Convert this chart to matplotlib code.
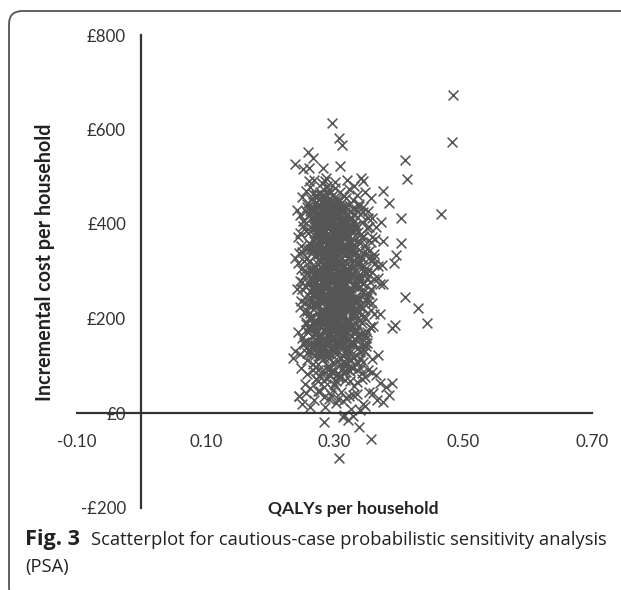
import matplotlib
matplotlib.use("Agg")
import matplotlib.pyplot as plt
from matplotlib.patches import FancyBboxPatch

# ---------------- data ----------------
# sparse / outlying draws
qaly_sparse = [0.296, 0.307, 0.312, 0.259, 0.239, 0.251, 0.260, 0.282, 0.309, 0.260,
               0.287, 0.320, 0.341, 0.344, 0.484, 0.482, 0.410, 0.412, 0.466, 0.375,
               0.384, 0.403, 0.375, 0.403, 0.395, 0.392, 0.409, 0.430, 0.444, 0.394,
               0.390, 0.385, 0.390, 0.356, 0.364, 0.372, 0.348, 0.235, 0.245, 0.266]
cost_sparse = [614, 583, 567, 553, 528, 516, 518, 518, 523, 490,
               497, 493, 497, 490, 673, 574, 535, 495, 421, 470,
               444, 412, 365, 360, 334, 317, 246, 222, 190, 186,
               179, 38, 63, 454, 394, 405, 468, 116, 35, 540]

qaly_450 = [0.262, 0.271, 0.284, 0.293, 0.301, 0.276, 0.268, 0.309, 0.315, 0.289,
            0.255, 0.298, 0.281, 0.322, 0.305, 0.273, 0.330, 0.292, 0.266, 0.318,
            0.286, 0.300, 0.278, 0.335, 0.249]
cost_450 = [478, 462, 471, 455, 488, 452, 494, 467, 459, 481,
            470, 462, 486, 475, 451, 458, 481, 473, 463, 456,
            492, 477, 468, 462, 458]

qaly_400 = [0.258, 0.264, 0.271, 0.279, 0.283, 0.288, 0.292, 0.296, 0.301, 0.305,
            0.311, 0.316, 0.322, 0.327, 0.333, 0.340, 0.246, 0.252, 0.268, 0.275,
            0.281, 0.286, 0.291, 0.297, 0.303, 0.308, 0.313, 0.319, 0.324, 0.331,
            0.338, 0.352, 0.274, 0.279, 0.285, 0.290, 0.294, 0.299, 0.306, 0.262,
            0.283, 0.288, 0.277, 0.293, 0.301, 0.310, 0.318, 0.345, 0.256, 0.270,
            0.287, 0.295, 0.281, 0.298, 0.304, 0.326, 0.314, 0.359, 0.241, 0.267]
cost_400 = [443, 432, 447, 438, 429, 445, 436, 441, 433, 447,
            425, 438, 441, 412, 431, 422, 418, 406, 402, 415,
            411, 404, 419, 408, 414, 402, 409, 420, 401, 405,
            443, 428, 437, 446, 440, 435, 449, 444, 439, 427,
            422, 417, 406, 413, 426, 407, 416, 436, 428, 410,
            432, 401, 448, 424, 419, 412, 403, 413, 430, 436]

qaly_350 = [0.251, 0.259, 0.266, 0.272, 0.277, 0.281, 0.285, 0.289, 0.293, 0.297,
            0.301, 0.305, 0.309, 0.314, 0.319, 0.324, 0.330, 0.337, 0.345, 0.356,
            0.244, 0.262, 0.269, 0.274, 0.279, 0.283, 0.287, 0.291, 0.295, 0.299,
            0.303, 0.307, 0.312, 0.317, 0.322, 0.328, 0.334, 0.341, 0.350, 0.363,
            0.255, 0.268, 0.276, 0.284, 0.290, 0.296, 0.302, 0.308, 0.315, 0.321,
            0.327, 0.333, 0.280, 0.286, 0.292, 0.298, 0.304, 0.310, 0.275, 0.288,
            0.294, 0.300, 0.306, 0.313, 0.320, 0.339, 0.248, 0.271, 0.282, 0.318]
cost_350 = [396, 381, 389, 372, 398, 385, 365, 391, 377, 360,
            394, 371, 386, 358, 379, 392, 366, 383, 374, 361,
            372, 357, 395, 364, 388, 352, 376, 399, 368, 384,
            355, 390, 373, 397, 362, 387, 351, 378, 392, 369,
            386, 363, 355, 380, 393, 367, 385, 359, 398, 374,
            353, 389, 371, 397, 356, 382, 363, 390, 377, 369,
            395, 358, 374, 381, 391, 360, 354, 378, 366, 384]

qaly_300 = [0.249, 0.257, 0.264, 0.270, 0.275, 0.279, 0.283, 0.287, 0.291, 0.295,
            0.299, 0.303, 0.307, 0.311, 0.316, 0.321, 0.326, 0.332, 0.339, 0.347,
            0.358, 0.368, 0.243, 0.261, 0.268, 0.273, 0.278, 0.282, 0.286, 0.290,
            0.294, 0.298, 0.302, 0.306, 0.310, 0.315, 0.320, 0.325, 0.331, 0.337,
            0.344, 0.353, 0.254, 0.266, 0.276, 0.284, 0.289, 0.293, 0.297, 0.301,
            0.305, 0.309, 0.313, 0.318, 0.323, 0.329, 0.335, 0.342, 0.280, 0.288,
            0.296, 0.304, 0.312, 0.272, 0.285, 0.292, 0.300, 0.308, 0.317, 0.327,
            0.362, 0.374, 0.238, 0.281, 0.299]
cost_300 = [341, 327, 348, 312, 336, 321, 344, 305, 330, 347,
            316, 339, 323, 308, 345, 329, 314, 337, 320, 343,
            326, 311, 318, 304, 333, 346, 309, 331, 342, 317,
            303, 338, 325, 349, 313, 334, 306, 341, 322, 335,
            310, 329, 302, 344, 325, 339, 312, 348, 321, 307,
            336, 315, 344, 301, 331, 347, 317, 329, 333, 320,
            308, 345, 327, 350, 314, 337, 324, 340, 302, 318,
            336, 313, 329, 346, 309]

qaly_250 = [0.252, 0.259, 0.265, 0.271, 0.276, 0.280, 0.284, 0.288, 0.292, 0.296,
            0.300, 0.304, 0.308, 0.312, 0.317, 0.322, 0.327, 0.333, 0.340, 0.348,
            0.357, 0.367, 0.376, 0.246, 0.262, 0.269, 0.274, 0.279, 0.283, 0.287,
            0.291, 0.295, 0.299, 0.303, 0.307, 0.311, 0.316, 0.321, 0.326, 0.332,
            0.338, 0.345, 0.355, 0.256, 0.267, 0.277, 0.285, 0.290, 0.294, 0.298,
            0.302, 0.306, 0.310, 0.314, 0.319, 0.324, 0.330, 0.336, 0.343, 0.281,
            0.289, 0.297, 0.305, 0.313, 0.273, 0.286, 0.293, 0.301, 0.309, 0.318,
            0.328, 0.361, 0.241, 0.350, 0.371]
cost_250 = [291, 276, 298, 262, 284, 253, 295, 271, 287, 259,
            282, 297, 265, 289, 274, 256, 293, 268, 281, 296,
            263, 286, 272, 279, 258, 290, 267, 299, 275, 252,
            288, 264, 294, 271, 255, 283, 297, 261, 286, 270,
            292, 257, 278, 266, 284, 251, 296, 274, 289, 260,
            281, 298, 263, 287, 254, 293, 269, 283, 261, 277,
            295, 256, 288, 272, 299, 264, 285, 252, 276, 291,
            268, 283, 262, 296, 274]

qaly_200 = [0.254, 0.261, 0.267, 0.273, 0.278, 0.282, 0.286, 0.290, 0.294, 0.298,
            0.302, 0.306, 0.310, 0.315, 0.320, 0.325, 0.331, 0.337, 0.344, 0.352,
            0.362, 0.248, 0.264, 0.271, 0.276, 0.281, 0.285, 0.289, 0.293, 0.297,
            0.301, 0.305, 0.309, 0.313, 0.318, 0.323, 0.329, 0.335, 0.342, 0.350,
            0.258, 0.269, 0.279, 0.287, 0.292, 0.296, 0.300, 0.304, 0.308, 0.312,
            0.317, 0.322, 0.328, 0.334, 0.284, 0.291, 0.299, 0.307, 0.316, 0.275,
            0.295, 0.303, 0.311, 0.358, 0.370]
cost_200 = [243, 228, 247, 212, 236, 221, 249, 205, 232, 244,
            217, 239, 226, 208, 245, 230, 214, 241, 223, 235,
            209, 238, 204, 231, 246, 215, 240, 227, 211, 248,
            233, 219, 242, 206, 229, 247, 213, 237, 222, 244,
            216, 234, 201, 242, 226, 210, 245, 221, 237, 203,
            231, 248, 218, 239, 207, 224, 246, 213, 235, 228,
            202, 238, 216, 233, 210]

qaly_150 = [0.256, 0.263, 0.270, 0.276, 0.281, 0.285, 0.289, 0.293, 0.297, 0.301,
            0.305, 0.309, 0.313, 0.318, 0.323, 0.329, 0.335, 0.342, 0.350, 0.360,
            0.250, 0.266, 0.273, 0.279, 0.284, 0.288, 0.292, 0.296, 0.300, 0.304,
            0.308, 0.312, 0.317, 0.322, 0.327, 0.333, 0.340, 0.347, 0.260, 0.277,
            0.287, 0.295, 0.303, 0.311, 0.320, 0.330, 0.283, 0.291, 0.299, 0.307,
            0.315, 0.269, 0.338, 0.355, 0.244]
cost_150 = [193, 178, 197, 162, 186, 171, 199, 155, 183, 194,
            167, 189, 175, 158, 196, 180, 164, 191, 172, 185,
            159, 188, 153, 181, 196, 165, 190, 177, 161, 198,
            182, 169, 192, 156, 187, 174, 197, 162, 178, 151,
            194, 168, 185, 157, 189, 170, 199, 163, 181, 152,
            176, 195, 160, 183, 171]

qaly_100 = [0.253, 0.262, 0.270, 0.277, 0.283, 0.288, 0.293, 0.298, 0.303, 0.308,
            0.313, 0.319, 0.325, 0.332, 0.340, 0.349, 0.359, 0.247, 0.266, 0.274,
            0.280, 0.286, 0.291, 0.296, 0.301, 0.306, 0.311, 0.316, 0.322, 0.329,
            0.337, 0.345, 0.258, 0.279, 0.289, 0.299, 0.309, 0.318, 0.327, 0.284,
            0.294, 0.304, 0.314, 0.368, 0.239]
cost_100 = [147, 132, 144, 118, 139, 126, 149, 108, 135, 143,
            121, 138, 112, 146, 129, 141, 115, 124, 137, 103,
            128, 145, 116, 133, 148, 110, 141, 127, 136, 119,
            105, 134, 113, 142, 123, 137, 101, 130, 146, 117,
            140, 125, 109, 122, 131]

qaly_50 = [0.248, 0.257, 0.266, 0.274, 0.281, 0.287, 0.293, 0.299, 0.305, 0.311,
           0.317, 0.324, 0.331, 0.339, 0.348, 0.358, 0.370, 0.262, 0.278, 0.290,
           0.302, 0.314, 0.327, 0.343, 0.254, 0.284, 0.296, 0.308, 0.320, 0.335,
           0.365, 0.271, 0.300, 0.352, 0.380]
cost_50 = [96, 82, 91, 67, 88, 74, 98, 61, 85, 93,
           70, 89, 58, 95, 77, 86, 64, 53, 79, 92,
           68, 84, 97, 73, 62, 55, 87, 76, 94, 66,
           81, 71, 59, 90, 56]

qaly_0 = [0.245, 0.256, 0.268, 0.278, 0.286, 0.294, 0.302, 0.310, 0.318, 0.326,
          0.335, 0.344, 0.354, 0.366, 0.262, 0.283, 0.298, 0.313, 0.329, 0.347,
          0.274, 0.306, 0.339, 0.360, 0.250, 0.291, 0.322, 0.375]
cost_0 = [35, 42, 28, 47, 13, 38, 22, 45, 31, 8,
          40, 18, 44, 27, 12, 33, 48, 25, 39, 15,
          46, 30, 6, 42, 20, 29, 36, 24]

qaly_neg = [0.284, 0.314, 0.329, 0.338, 0.356, 0.307, 0.313, 0.321]
cost_neg = [-20, -4, -6, -29, -54, -95, -9, -15]

# dense core (upper half)
qaly_core_a = [0.272, 0.281, 0.289, 0.297, 0.305, 0.313, 0.321, 0.277, 0.285, 0.293,
               0.301, 0.309, 0.317, 0.325, 0.269, 0.283, 0.291, 0.299, 0.307, 0.315,
               0.274, 0.288, 0.296, 0.304, 0.312, 0.320, 0.279, 0.286, 0.294, 0.302,
               0.310, 0.318, 0.271, 0.282, 0.290, 0.298, 0.306, 0.314, 0.322, 0.276,
               0.284, 0.292, 0.300, 0.308, 0.316, 0.324, 0.280, 0.287, 0.295, 0.303,
               0.311, 0.319, 0.273, 0.289, 0.297, 0.305, 0.313, 0.278, 0.286, 0.294,
               0.302, 0.310, 0.318, 0.326, 0.270, 0.283, 0.291, 0.299, 0.307, 0.315,
               0.275, 0.288, 0.296, 0.304, 0.312, 0.281, 0.293, 0.301, 0.309, 0.317,
               0.268, 0.285, 0.292, 0.300, 0.308, 0.316, 0.279, 0.290, 0.298, 0.306,
               0.314, 0.323, 0.274, 0.287, 0.295, 0.303, 0.311, 0.282, 0.297, 0.305]
cost_core_a = [437, 412, 425, 446, 418, 431, 404, 392, 441, 377,
               428, 363, 409, 386, 356, 433, 369, 415, 398, 352,
               421, 345, 389, 327, 436, 374, 338, 403, 361, 423,
               316, 392, 349, 427, 308, 381, 356, 414, 331, 396,
               302, 445, 372, 324, 408, 347, 383, 438, 315, 366,
               429, 352, 397, 441, 334, 373, 412, 295, 386, 357,
               420, 341, 377, 306, 394, 431, 362, 288, 417, 349,
               402, 326, 443, 372, 289, 366, 319, 398, 437, 355,
               281, 411, 346, 378, 304, 426, 367, 393, 433, 318,
               376, 341, 384, 297, 423, 359, 401, 314, 292, 435]

# dense core (lower half)
qaly_core_b = [0.271, 0.279, 0.288, 0.296, 0.304, 0.312, 0.320, 0.328, 0.275, 0.283,
               0.291, 0.299, 0.307, 0.315, 0.323, 0.268, 0.286, 0.294, 0.302, 0.310,
               0.318, 0.273, 0.281, 0.289, 0.297, 0.305, 0.313, 0.321, 0.277, 0.285,
               0.293, 0.301, 0.309, 0.317, 0.325, 0.270, 0.280, 0.290, 0.298, 0.306,
               0.314, 0.322, 0.276, 0.284, 0.292, 0.300, 0.308, 0.316, 0.272, 0.287,
               0.295, 0.303, 0.311, 0.319, 0.278, 0.286, 0.294, 0.302, 0.310, 0.318,
               0.326, 0.274, 0.282, 0.291, 0.299, 0.307, 0.315, 0.269, 0.285, 0.293,
               0.301, 0.309, 0.317, 0.280, 0.288, 0.296, 0.304, 0.312, 0.320, 0.276,
               0.284, 0.297, 0.305, 0.313, 0.271, 0.290, 0.298, 0.306, 0.314, 0.283,
               0.292, 0.300, 0.308, 0.316, 0.279, 0.295, 0.303, 0.311, 0.287, 0.324]
cost_core_b = [287, 263, 295, 241, 276, 258, 292, 224, 269, 248,
               281, 213, 262, 297, 236, 254, 271, 229, 288, 206,
               259, 277, 196, 244, 283, 218, 267, 239, 202, 291,
               253, 187, 274, 231, 264, 298, 246, 179, 286, 222,
               257, 194, 272, 238, 169, 281, 213, 247, 233, 266,
               188, 258, 225, 294, 207, 251, 176, 269, 241, 184,
               226, 262, 215, 298, 161, 247, 232, 278, 193, 254,
               219, 285, 167, 243, 272, 209, 256, 184, 238, 266,
               198, 231, 274, 152, 247, 186, 262, 217, 241, 278,
               204, 235, 143, 269, 253, 191, 228, 275, 211, 249]

# dense core (full width fill)
qaly_core_c = [0.263, 0.331, 0.267, 0.338, 0.271, 0.342, 0.265, 0.329, 0.274, 0.336,
               0.268, 0.334, 0.262, 0.327, 0.276, 0.340, 0.270, 0.332, 0.264, 0.345,
               0.281, 0.319, 0.286, 0.323, 0.291, 0.313, 0.278, 0.335, 0.266, 0.330,
               0.269, 0.337, 0.273, 0.328, 0.261, 0.341, 0.277, 0.333, 0.267, 0.326,
               0.300, 0.306, 0.294, 0.311, 0.289, 0.316, 0.298, 0.304, 0.292, 0.309,
               0.272, 0.339, 0.264, 0.331, 0.279, 0.343, 0.268, 0.325, 0.262, 0.336,
               0.284, 0.321, 0.297, 0.303, 0.288, 0.315, 0.295, 0.307, 0.282, 0.319,
               0.266, 0.334, 0.275, 0.327, 0.263, 0.340, 0.271, 0.330, 0.278, 0.344,
               0.290, 0.312, 0.286, 0.318, 0.299, 0.306, 0.293, 0.310, 0.285, 0.314,
               0.267, 0.337, 0.273, 0.329, 0.264, 0.332, 0.276, 0.341, 0.269, 0.323,
               0.301, 0.296, 0.308, 0.291, 0.305, 0.287, 0.311, 0.294, 0.303, 0.317,
               0.280, 0.324, 0.274, 0.333, 0.288, 0.320, 0.283, 0.327, 0.270, 0.338]
cost_core_c = [452, 118, 305, 226, 189, 371, 262, 433, 141, 289,
               417, 172, 347, 256, 463, 308, 224, 395, 128, 338,
               462, 133, 458, 147, 466, 121, 452, 283, 398, 421,
               233, 364, 176, 451, 319, 207, 128, 246, 279, 183,
               138, 322, 167, 211, 445, 236, 188, 454, 301, 117,
               384, 269, 198, 338, 155, 405, 431, 162, 283, 218,
               326, 198, 282, 347, 221, 292, 359, 264, 187, 315,
               345, 397, 262, 149, 412, 241, 169, 357, 294, 272,
               302, 376, 418, 233, 369, 143, 248, 409, 139, 161,
               302, 314, 421, 382, 237, 176, 351, 331, 165, 218,
               252, 313, 279, 358, 401, 183, 341, 405, 197, 257,
               239, 426, 315, 302, 412, 353, 281, 207, 264, 438]

# lower core fill
qaly_core_d = [0.262, 0.318, 0.281, 0.337, 0.296, 0.271, 0.309, 0.289, 0.346, 0.258,
               0.327, 0.276, 0.303, 0.285, 0.341, 0.266, 0.314, 0.293, 0.332, 0.279,
               0.300, 0.259, 0.322, 0.287, 0.345, 0.274, 0.311, 0.296, 0.269, 0.336,
               0.283, 0.307, 0.261, 0.325, 0.291, 0.349, 0.277, 0.316, 0.298, 0.264,
               0.330, 0.286, 0.305, 0.272, 0.339, 0.294, 0.257, 0.320, 0.281, 0.343,
               0.268, 0.313, 0.290, 0.334, 0.276, 0.302, 0.260, 0.324, 0.288, 0.347,
               0.273, 0.308, 0.295, 0.265, 0.329, 0.284, 0.317, 0.270, 0.340, 0.299,
               0.256, 0.321, 0.280, 0.335, 0.292, 0.263, 0.312, 0.287, 0.344, 0.306]
cost_core_d = [212, 87, 164, 138, 195, 73, 181, 118, 206, 152,
               96, 187, 129, 214, 167, 104, 148, 79, 192, 135,
               217, 171, 112, 199, 143, 90, 208, 158, 123, 185,
               68, 176, 201, 131, 94, 159, 215, 106, 183, 139,
               202, 151, 77, 169, 114, 196, 127, 188, 142, 84,
               178, 203, 99, 155, 121, 219, 185, 67, 210, 132,
               146, 193, 88, 163, 209, 175, 102, 192, 117, 157,
               138, 180, 211, 92, 126, 149, 166, 197, 108, 82]

# edges of the cloud
qaly_edge = [0.247, 0.253, 0.258, 0.250, 0.256, 0.261, 0.248, 0.254, 0.259, 0.252,
             0.257, 0.245, 0.262, 0.251, 0.255, 0.249, 0.260, 0.253, 0.246, 0.258,
             0.352, 0.347, 0.358, 0.349, 0.355, 0.361, 0.346, 0.353, 0.350, 0.357,
             0.348, 0.354, 0.359, 0.351, 0.345, 0.356, 0.362, 0.347, 0.353, 0.349]
cost_edge = [382, 214, 347, 263, 176, 418, 305, 233, 389, 151,
             297, 338, 246, 407, 188, 278, 359, 321, 224, 437,
             412, 356, 298, 237, 183, 329, 276, 394, 148, 261,
             201, 343, 372, 286, 426, 219, 315, 167, 252, 307]

x_ticks = [-0.10, 0.10, 0.30, 0.50, 0.70]
x_ticklabels = ["-0.10", "0.10", "0.30", "0.50", "0.70"]
y_ticks = [-200, 0, 200, 400, 600, 800]
y_ticklabels = ["-£200", "£0", "£200", "£400", "£600", "£800"]

x_title = "QALYs per household"
y_title = "Incremental cost per household"
caption_bold = "Fig. 3"
caption_text = "Scatterplot for cautious-case probabilistic sensitivity analysis"
caption_line2 = "(PSA)"

groups = [(qaly_sparse, cost_sparse), (qaly_450, cost_450), (qaly_400, cost_400),
          (qaly_350, cost_350), (qaly_300, cost_300), (qaly_250, cost_250),
          (qaly_200, cost_200), (qaly_150, cost_150), (qaly_100, cost_100),
          (qaly_50, cost_50), (qaly_0, cost_0), (qaly_neg, cost_neg),
          (qaly_core_a, cost_core_a), (qaly_core_b, cost_core_b),
          (qaly_core_c, cost_core_c), (qaly_core_d, cost_core_d),
          (qaly_edge, cost_edge)]
qalys, costs = [], []
for gx, gy in groups:
    assert len(gx) == len(gy), (len(gx), len(gy))
    qalys += gx
    costs += gy

# ---------------- figure ----------------
W, H = 621, 590
DPI = 100
fig = plt.figure(figsize=(W / DPI, H / DPI), dpi=DPI)
fig.patch.set_facecolor("white")
renderer = fig.canvas.get_renderer()

def fx(px):
    return px / W

def fy(py):
    return 1 - py / H

def fit_width(t, target_px):
    w = t.get_window_extent(renderer=renderer).width
    t.set_fontsize(t.get_fontsize() * target_px / w)

def fit_height(t, target_px):
    h = t.get_window_extent(renderer=renderer).height
    t.set_fontsize(t.get_fontsize() * target_px / h)

# rounded frame (continues past right / bottom edges)
frame = FancyBboxPatch((fx(9), fy(600)), fx(660) - fx(9), fy(11) - fy(600),
                       boxstyle="round,pad=0,rounding_size=0.022",
                       transform=fig.transFigure, fill=False,
                       edgecolor="#555555", linewidth=1.3, zorder=0)
fig.patches.append(frame)

ax_l, ax_r, ax_t, ax_b = 77, 592, 35, 507.5
ax = fig.add_axes([fx(ax_l), fy(ax_b), fx(ax_r) - fx(ax_l), fy(ax_t) - fy(ax_b)])
ax.set_facecolor("none")
ax.set_xlim(-0.1, 0.7)
ax.set_ylim(-200, 800)

ax.scatter(qalys, costs, marker="x", s=50, color="#555555", linewidths=1.15, zorder=3)

for side in ("top", "right"):
    ax.spines[side].set_visible(False)
ax.spines["left"].set_position(("data", 0))
ax.spines["bottom"].set_position(("data", 0))
for side in ("left", "bottom"):
    ax.spines[side].set_color("#333333")
    ax.spines[side].set_linewidth(1.6)
    ax.spines[side].set_zorder(4)

tick_font = ["Lato", "DejaVu Sans"]
ax.set_xticks(x_ticks)
ax.set_xticklabels(x_ticklabels, family=tick_font, fontsize=12.2, color="#333333")
ax.set_yticks(y_ticks)
ax.set_yticklabels(y_ticklabels, family=tick_font, fontsize=12.2, color="#333333")
ax.tick_params(axis="x", length=0, pad=15)
ax.tick_params(axis="y", length=0, pad=11)

yt = fig.text(fx(45), fy(262), y_title, rotation=90, ha="center", va="center",
              family=tick_font, fontweight="bold", fontsize=12.5, color="#222222")
fit_height(yt, 277)

xt = fig.text(fx(353), fy(509), x_title, ha="center", va="center",
              family=tick_font, fontweight="bold", fontsize=12.5, color="#222222")
fit_width(xt, 170)

cap_font = ["Open Sans", "DejaVu Sans"]
t_bold = fig.text(fx(25), fy(540), caption_bold, ha="left", va="center",
                  family=cap_font, fontweight="bold", fontsize=13.5, color="#222222")
fit_width(t_bold, 55)
t_reg = fig.text(fx(91), fy(540), caption_text, ha="left", va="center",
                 family=cap_font, fontsize=13.5, color="#222222")
fit_width(t_reg, 515)
t2 = fig.text(fx(25), fy(567), caption_line2, ha="left", va="center",
              family=cap_font, fontsize=t_reg.get_fontsize(), color="#222222")

fig.savefig("out.png", dpi=DPI, facecolor="white")
